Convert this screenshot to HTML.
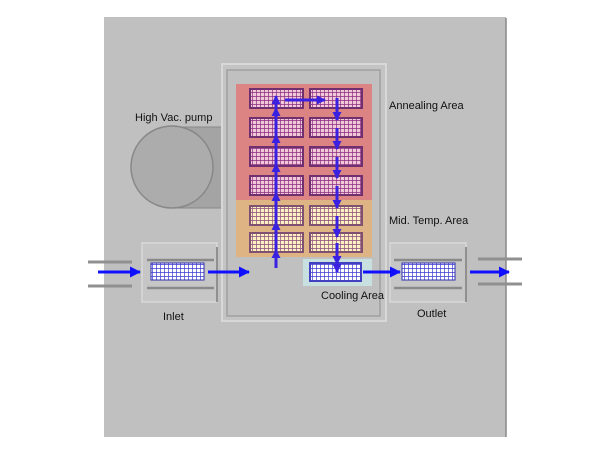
<!DOCTYPE html>
<html><head><style>body{margin:0;background:#fff}svg{display:block}text{font-family:"Liberation Sans",sans-serif;font-size:11px;fill:#111}</style></head><body>
<svg width="600" height="450" viewBox="0 0 600 450">
<defs>
<pattern id="gp" width="4" height="4" patternUnits="userSpaceOnUse"><rect width="4" height="4" fill="#f0c8d8"/><path d="M0 0H4M0 0V4" stroke="#8a2a80" stroke-width="1.4"/></pattern>
<pattern id="gy" width="4" height="4" patternUnits="userSpaceOnUse"><rect width="4" height="4" fill="#fff0c0"/><path d="M0 0H4M0 0V4" stroke="#8a4a80" stroke-width="1.4"/></pattern>
<pattern id="gb" width="4" height="4" patternUnits="userSpaceOnUse"><rect width="4" height="4" fill="#fff"/><path d="M0 0H4M0 0V4" stroke="#3a3ad0" stroke-width="1.4"/></pattern>
<marker id="ah" markerWidth="9" markerHeight="9" refX="8" refY="4.5" orient="auto" markerUnits="userSpaceOnUse"><path d="M0 0L9 4.5L0 9z" fill="#3a20e0"/></marker>
<marker id="ah2" markerWidth="11" markerHeight="11" refX="10" refY="5.5" orient="auto" markerUnits="userSpaceOnUse"><path d="M0 0L11 5.5L0 11z" fill="#1010ff"/></marker>
</defs>
<rect x="104" y="17" width="402" height="420" fill="#c0c0c0"/>
<line x1="506" y1="18" x2="506" y2="437" stroke="#888" stroke-width="1.5"/>
<rect x="172" y="127" width="50" height="81" fill="#a4a4a4" stroke="#888"/>
<circle cx="172" cy="167" r="41" fill="#acacac" stroke="#888" stroke-width="1.5"/>
<text x="135" y="121">High Vac. pump</text>
<rect x="222" y="64" width="164" height="257" fill="#c4c4c4" stroke="#d8d8d8" stroke-width="2"/>
<rect x="227" y="70" width="153" height="246" fill="#c0c0c0" stroke="#a0a0a0" stroke-width="1.5"/>
<rect x="236" y="84" width="136" height="116" fill="#dc8484"/>
<rect x="236" y="200" width="136" height="57" fill="#deb484"/>
<rect x="303" y="259" width="69" height="27" fill="#c8e0e0"/>
<g stroke="#703070" stroke-width="2">
<rect x="250" y="89" width="53" height="19" fill="url(#gp)"/><rect x="310" y="89" width="52" height="19" fill="url(#gp)"/>
<rect x="250" y="118" width="53" height="19" fill="url(#gp)"/><rect x="310" y="118" width="52" height="19" fill="url(#gp)"/>
<rect x="250" y="147" width="53" height="19" fill="url(#gp)"/><rect x="310" y="147" width="52" height="19" fill="url(#gp)"/>
<rect x="250" y="176" width="53" height="19" fill="url(#gp)"/><rect x="310" y="176" width="52" height="19" fill="url(#gp)"/>
<rect x="250" y="206" width="53" height="19" fill="url(#gy)" stroke="#805070"/><rect x="310" y="206" width="52" height="19" fill="url(#gy)" stroke="#805070"/>
<rect x="250" y="233" width="53" height="19" fill="url(#gy)" stroke="#805070"/><rect x="310" y="233" width="52" height="19" fill="url(#gy)" stroke="#805070"/>
<rect x="310" y="263" width="51" height="18" fill="url(#gb)" stroke="#4040c0"/>
</g>
<g stroke="#3a20e0" stroke-width="3" marker-end="url(#ah)">
<line x1="276" y1="268" x2="276" y2="250"/><line x1="276" y1="252" x2="276" y2="222"/><line x1="276" y1="225" x2="276" y2="193"/><line x1="276" y1="195" x2="276" y2="164"/><line x1="276" y1="166" x2="276" y2="135"/><line x1="276" y1="137" x2="276" y2="108"/><line x1="276" y1="110" x2="276" y2="96"/>
<line x1="285" y1="100" x2="325" y2="100"/>
<line x1="337" y1="98" x2="337" y2="120"/><line x1="337" y1="128" x2="337" y2="149"/><line x1="337" y1="157" x2="337" y2="178"/><line x1="337" y1="186" x2="337" y2="208"/><line x1="337" y1="216" x2="337" y2="237"/><line x1="337" y1="243" x2="337" y2="264"/><line x1="337" y1="252" x2="337" y2="272"/>
</g>
<g>
<rect x="142" y="243" width="75" height="59" fill="#c6c6c6" stroke="#d8d8d8" stroke-width="1.5"/>
<line x1="217" y1="247" x2="217" y2="302" stroke="#909090" stroke-width="2"/>
<line x1="147" y1="260" x2="214" y2="260" stroke="#8a8a8a" stroke-width="2.5"/>
<line x1="147" y1="288" x2="214" y2="288" stroke="#8a8a8a" stroke-width="2.5"/>
<rect x="151" y="263" width="53" height="17" fill="url(#gb)" stroke="#3030b0"/>
</g>
<g>
<rect x="390" y="243" width="76" height="59" fill="#c6c6c6" stroke="#d8d8d8" stroke-width="1.5"/>
<line x1="466" y1="247" x2="466" y2="302" stroke="#909090" stroke-width="2"/>
<line x1="394" y1="260" x2="462" y2="260" stroke="#8a8a8a" stroke-width="2.5"/>
<line x1="394" y1="288" x2="462" y2="288" stroke="#8a8a8a" stroke-width="2.5"/>
<rect x="402" y="263" width="53" height="17" fill="url(#gb)" stroke="#3030b0"/>
</g>
<g stroke="#909090" stroke-width="3">
<line x1="88" y1="262" x2="132" y2="262"/><line x1="88" y1="286" x2="132" y2="286"/>
<line x1="478" y1="259" x2="522" y2="259"/><line x1="478" y1="284" x2="522" y2="284"/>
</g>
<g stroke="#1010ff" stroke-width="3" marker-end="url(#ah2)">
<line x1="98" y1="272" x2="140" y2="272"/>
<line x1="208" y1="272" x2="249" y2="272"/>
<line x1="363" y1="272" x2="400" y2="272"/>
<line x1="470" y1="272" x2="509" y2="272"/>
</g>
<text x="389" y="109">Annealing Area</text>
<text x="389" y="224">Mid. Temp. Area</text>
<text x="321" y="299">Cooling Area</text>
<text x="163" y="320">Inlet</text>
<text x="417" y="317">Outlet</text>
</svg>
</body></html>
